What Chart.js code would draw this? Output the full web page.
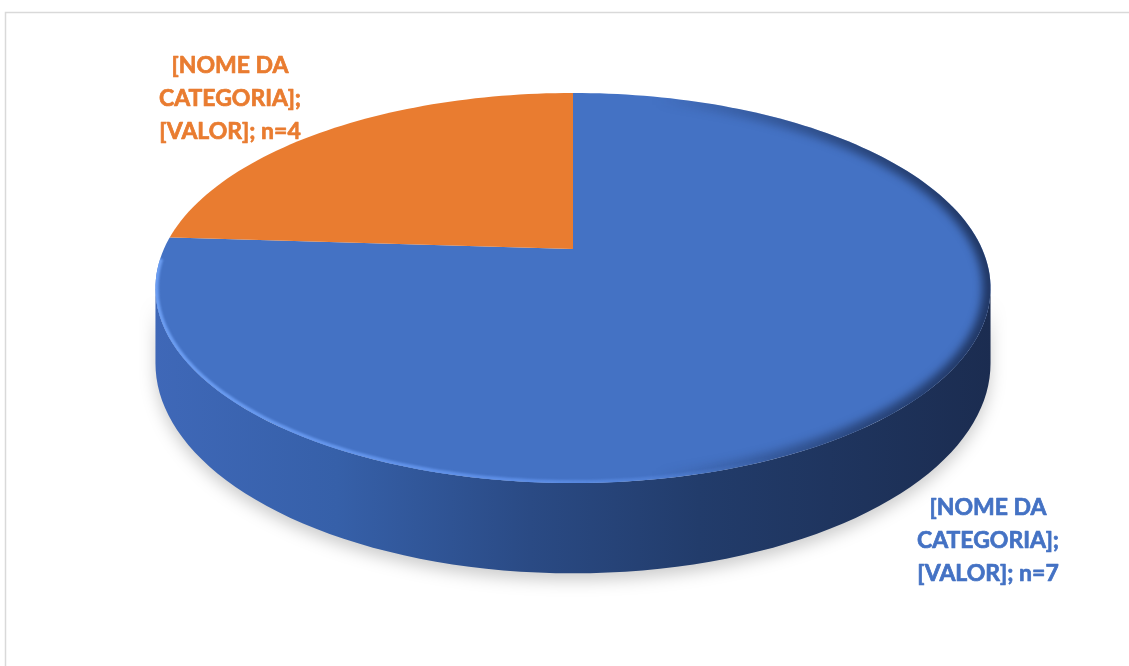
<!DOCTYPE html>
<html>
<head>
<meta charset="utf-8">
<script src="https://cdn.jsdelivr.net/npm/chart.js@4.4.1/dist/chart.umd.min.js"></script>
<style>
  html, body { margin: 0; padding: 0; background: #fff; }
  #wrap { position: relative; width: 1129px; height: 666px; }
</style>
</head>
<body>
<div id="wrap"><canvas id="pie"></canvas></div>
<script>
// slice data
const categories = ["[NOME DA CATEGORIA]", "[NOME DA CATEGORIA]"];
const shares = [76, 24];
const counts = [7, 4];
const sliceColors = ["#4472C4", "#E97C30"];
const labelColors = ["#4472C4", "#E97C30"];

// where each data label sits: centre x, first baseline
const labelAnchors = [[988, 515], [230, 73]];
const labelLineGap = 33;

// 3D look: top face stretch, perspective strength, wall depth (all relative to the pie radius)
const FACE_X = 1.643;
const FACE_Y = 0.752;
const PERSP = 0.2;
const DEPTH = 0.29;
const GROW = 1.45; // native arcs drawn bigger, then cut by the face outline

function project(arc, u, t, drop) {
  const w = 1 - PERSP * t;
  const r = arc.outerRadius;
  return [arc.x + (r * FACE_X * u) / w, arc.y + (r * (FACE_Y * t + drop)) / w];
}

// outline of the disc, phi = 0 is the point nearest the viewer
function tracePath(ctx, arc, from, to, drop, steps, moveFirst) {
  for (let i = 0; i <= steps; i++) {
    const phi = from + ((to - from) * i) / steps;
    const p = project(arc, Math.sin(phi), Math.cos(phi), drop);
    if (i === 0 && moveFirst) ctx.moveTo(p[0], p[1]);
    else ctx.lineTo(p[0], p[1]);
  }
}

function wrapLabel(cat, n) {
  const words = cat.split(" ");
  return [words.slice(0, 2).join(" "), words.slice(2).join(" ") + ";", "[VALOR]; n=" + n];
}

const pie3d = {
  id: "pie3d",
  beforeDraw(chart) {
    const ctx = chart.ctx;
    ctx.save();
    ctx.strokeStyle = "#d9d9d9";
    ctx.lineWidth = 1.5;
    ctx.strokeRect(5.5, 12.5, 1300, 900);
    ctx.restore();
  },
  beforeDatasetsDraw(chart) {
    const ctx = chart.ctx;
    const arc = chart.getDatasetMeta(0).data[0];
    const r = arc.outerRadius;
    const edge = Math.acos(PERSP);

    // front wall
    ctx.save();
    ctx.beginPath();
    tracePath(ctx, arc, -edge, edge, 0, 80, true);
    tracePath(ctx, arc, edge, -edge, DEPTH, 80, false);
    ctx.closePath();
    const left = arc.x - r * FACE_X * 1.03;
    const right = arc.x + r * FACE_X * 1.03;
    const g = ctx.createLinearGradient(left, 0, right, 0);
    g.addColorStop(0, "#3f68b8");
    g.addColorStop(0.22, "#3660a9");
    g.addColorStop(0.45, "#2a4a84");
    g.addColorStop(0.65, "#223c6b");
    g.addColorStop(1, "#1b2c50");
    ctx.shadowColor = "rgba(0,0,0,0.2)";
    ctx.shadowBlur = 16;
    ctx.shadowOffsetY = 7;
    ctx.fillStyle = g;
    ctx.fill();
    ctx.restore();

    // top face: clip to the disc and stretch the native arcs
    ctx.save();
    ctx.beginPath();
    tracePath(ctx, arc, 0, Math.PI * 2, 0, 240, true);
    ctx.closePath();
    ctx.clip();
    ctx.translate(arc.x, arc.y);
    ctx.scale(GROW * FACE_X, GROW * FACE_Y);
    ctx.translate(-arc.x, -arc.y);
  },
  afterDatasetsDraw(chart) {
    const ctx = chart.ctx;
    ctx.restore();
    const arc = chart.getDatasetMeta(0).data[0];
    const r = arc.outerRadius;
    const left = arc.x - r * FACE_X;
    const right = arc.x + r * FACE_X;

    // bevel along the top rim
    ctx.save();
    ctx.beginPath();
    tracePath(ctx, arc, 0, Math.PI * 2, 0, 240, true);
    ctx.closePath();
    ctx.clip();

    ctx.filter = "blur(4px)";
    ctx.beginPath();
    tracePath(ctx, arc, -0.2, Math.PI + 0.6, 0, 160, true);
    const dark = ctx.createLinearGradient(left, 0, right, 0);
    dark.addColorStop(0, "rgba(20,34,66,0)");
    dark.addColorStop(0.6, "rgba(20,34,66,0)");
    dark.addColorStop(0.85, "rgba(20,34,66,0.55)");
    dark.addColorStop(1, "rgba(20,34,66,0.75)");
    ctx.strokeStyle = dark;
    ctx.lineWidth = 16;
    ctx.stroke();

    ctx.filter = "blur(1px)";
    ctx.beginPath();
    tracePath(ctx, arc, -Math.acos(PERSP) - 0.15, 0.9, 0, 120, true);
    const light = ctx.createLinearGradient(left, 0, right, 0);
    light.addColorStop(0, "rgba(110,160,245,0.95)");
    light.addColorStop(0.45, "rgba(100,150,240,0.75)");
    light.addColorStop(0.75, "rgba(100,150,240,0)");
    light.addColorStop(1, "rgba(100,150,240,0)");
    ctx.strokeStyle = light;
    ctx.lineWidth = 6;
    ctx.stroke();
    ctx.restore();
  },
  afterDraw(chart) {
    const ctx = chart.ctx;
    ctx.save();
    ctx.font = "bold 23px Lato";
    ctx.textAlign = "center";
    ctx.textBaseline = "alphabetic";
    ctx.lineWidth = 0.7;
    ctx.lineJoin = "round";
    categories.forEach((cat, i) => {
      const lines = wrapLabel(cat, counts[i]);
      ctx.fillStyle = labelColors[i];
      ctx.strokeStyle = labelColors[i];
      lines.forEach((line, j) => {
        const y = labelAnchors[i][1] + j * labelLineGap;
        ctx.fillText(line, labelAnchors[i][0], y);
        ctx.strokeText(line, labelAnchors[i][0], y);
      });
    });
    ctx.restore();
  },
};

new Chart(document.getElementById("pie"), {
  type: "pie",
  data: {
    labels: categories,
    datasets: [
      {
        data: shares,
        backgroundColor: sliceColors,
        borderWidth: 0,
        clip: false,
      },
    ],
  },
  options: {
    responsive: true,
    maintainAspectRatio: false,
    animation: false,
    events: [],
    layout: { padding: { left: 17, right: 0, top: 0, bottom: 168 } },
    plugins: {
      legend: { display: false },
      tooltip: { enabled: false },
    },
  },
  plugins: [pie3d],
});
</script>
</body>
</html>
